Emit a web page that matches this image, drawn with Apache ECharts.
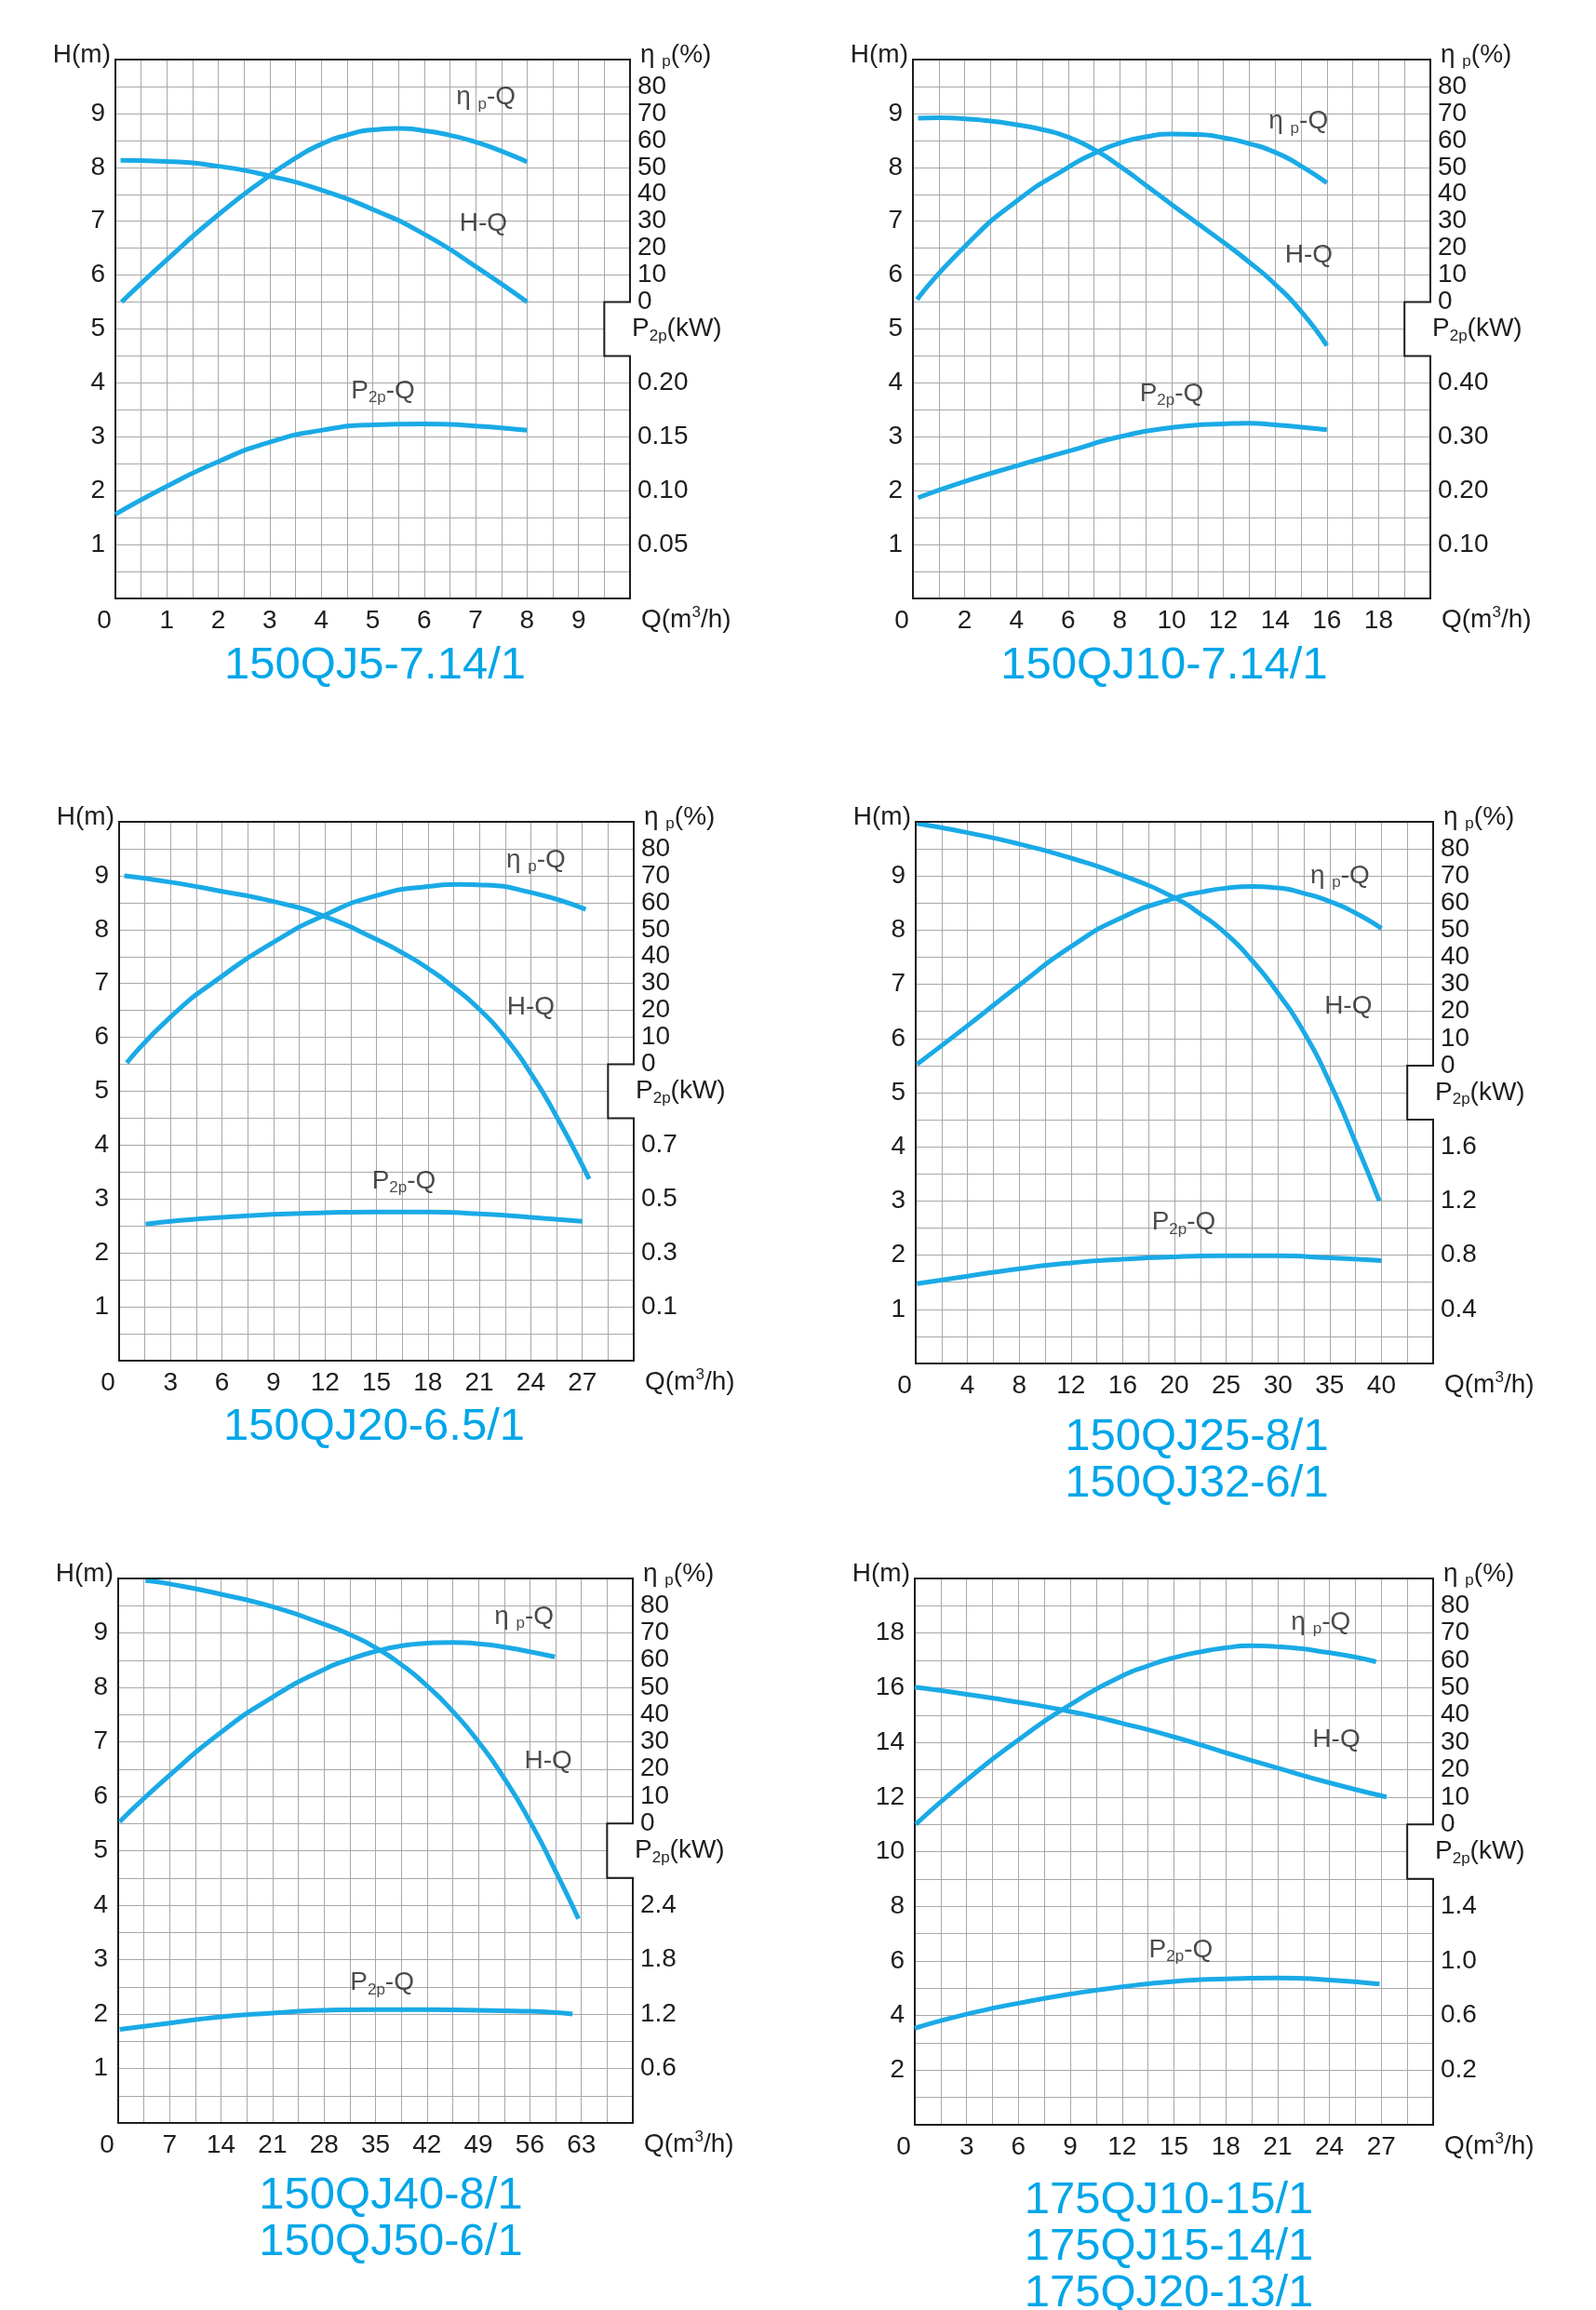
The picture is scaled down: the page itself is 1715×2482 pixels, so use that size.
<!DOCTYPE html>
<html>
<head>
	<meta charset="utf-8">
	<title>QJ 潜水泵性能曲线</title>
	<script src="https://cdn.jsdelivr.net/npm/echarts@6/dist/echarts.min.js"></script>
	<style type="text/css">
		html, body { margin: 0; padding: 0; background: #fff; }
		#chart { width: 1715px; height: 2482px; }
	</style>
</head>
<body>
<div id="chart"></div>
<script type="text/javascript">
	// ---- 150QJ5-7.14/1 ----
	var xTicks1 = [0, 1, 2, 3, 4, 5, 6, 7, 8, 9];
	var pLabels1 = ['0.05', '0.10', '0.15', '0.20'];
	var hq1 = [[0.1, 8.13], [1, 8.11], [2, 8.02], [3, 7.84], [4, 7.58], [5, 7.22], [6, 6.76], [7, 6.16], [8, 5.5]];
	var eta1 = [[0.12, 0], [1, 15.7], [2, 32.4], [3, 47], [3.5, 53.4], [4, 58.6], [4.5, 62], [5, 63.9], [5.5, 64.4], [6, 63.6], [6.5, 61.9], [7, 59.4], [7.5, 56], [8, 52]];
	var p1 = [[0, 0.078], [1, 0.104], [2, 0.127], [3, 0.145], [4, 0.156], [5, 0.161], [6, 0.162], [7, 0.160], [8, 0.156]];

	// ---- 150QJ10-7.14/1 ----
	var xTicks2 = [0, 2, 4, 6, 8, 10, 12, 14, 16, 18];
	var pLabels2 = ['0.10', '0.20', '0.30', '0.40'];
	var hq2 = [[0.2, 8.91], [1, 8.92], [2, 8.9], [3, 8.86], [4, 8.79], [5, 8.7], [6, 8.56], [7, 8.33], [8, 8.02], [9, 7.67], [10, 7.31], [11, 6.96], [12, 6.61], [13, 6.24], [14, 5.83], [15, 5.33], [16, 4.69]];
	var eta2 = [[0.16, 1], [2, 20.6], [4, 37.4], [6, 50], [7, 55.1], [8, 59], [9, 61.3], [10, 62.4], [11, 62.2], [12, 61], [13, 58.8], [14, 55.6], [15, 50.5], [16, 44.2]];
	var p2 = [[0.2, 0.187], [2, 0.217], [4, 0.246], [6, 0.273], [8, 0.30], [10, 0.317], [12, 0.324], [13, 0.325], [14, 0.322], [16, 0.313]];

	// ---- 150QJ20-6.5/1 ----
	var xTicks3 = [0, 3, 6, 9, 12, 15, 18, 21, 24, 27];
	var pLabels3 = ['0.1', '0.3', '0.5', '0.7'];
	var hq3 = [[0.3, 9.0], [3, 8.88], [6, 8.71], [9, 8.52], [12, 8.24], [15, 7.82], [16.5, 7.57], [18, 7.28], [19.5, 6.93], [21, 6.52], [22.5, 6.0], [24, 5.33], [25.5, 4.53], [27.4, 3.37]];
	var eta3 = [[0.45, 0.5], [3, 17.6], [6, 32.7], [9, 45.3], [12, 55.4], [15, 62.6], [18, 66], [19.9, 66.8], [21, 66.6], [24, 63.8], [27.2, 57.5]];
	var p3 = [[1.55, 0.407], [6, 0.432], [12, 0.449], [15, 0.452], [18, 0.452], [21, 0.445], [24, 0.432], [27, 0.417]];

	// ---- 150QJ25-8/1, 150QJ32-6/1 (x axis changes step at 20) ----
	var xTicks4 = [0, 4, 8, 12, 16, 20, 25, 30, 35, 40];
	var pLabels4 = ['0.4', '0.8', '1.2', '1.6'];
	var hq4 = [[0.1, 9.97], [4, 9.8], [8, 9.59], [12, 9.33], [16, 9.01], [20, 8.6], [22.5, 8.3], [25, 7.93], [27.5, 7.44], [30, 6.84], [32.5, 6.12], [35, 5.19], [37.5, 4.08], [39.8, 3.0]];
	var eta4 = [[0.1, 0.5], [4, 14.7], [8, 29.7], [12, 43.9], [16, 54.8], [20, 61.8], [22.5, 64], [25, 65.5], [27.5, 66.1], [30, 65.6], [32.5, 63.6], [35, 60.6], [37.5, 56.3], [40, 50.6]];
	var p4 = [[0.1, 0.59], [4, 0.645], [8, 0.70], [12, 0.743], [16, 0.77], [20, 0.787], [25, 0.795], [30, 0.795], [35, 0.78], [40, 0.76]];

	// ---- 150QJ40-8/1, 150QJ50-6/1 ----
	var xTicks5 = [0, 7, 14, 21, 28, 35, 42, 49, 56, 63];
	var pLabels5 = ['0.6', '1.2', '1.8', '2.4'];
	var hq5 = [[3.7, 9.96], [7, 9.9], [14, 9.71], [21, 9.48], [28, 9.16], [31.5, 8.97], [35, 8.73], [38.5, 8.42], [42, 8.03], [45.5, 7.56], [49, 7.0], [52.5, 6.33], [56, 5.54], [59.5, 4.62], [62.6, 3.75]];
	var eta5 = [[0.2, 0.6], [7, 17.7], [14, 33.5], [21, 46.4], [28, 56.6], [31.5, 60.3], [35, 63.2], [38.5, 65.2], [42, 66.2], [45.5, 66.5], [49, 66.0], [52.5, 64.8], [56, 63.1], [59.4, 61.2]];
	var p5 = [[0.2, 1.03], [7, 1.10], [14, 1.17], [21, 1.21], [28, 1.24], [35, 1.25], [42, 1.25], [49, 1.24], [56, 1.23], [61.8, 1.20]];

	// ---- 175QJ10-15/1, 175QJ15-14/1, 175QJ20-13/1 ----
	var xTicks6 = [0, 3, 6, 9, 12, 15, 18, 21, 24, 27];
	var pLabels6 = ['0.2', '0.6', '1.0', '1.4'];
	var hq6 = [[0, 16.02], [3, 15.76], [6, 15.47], [9, 15.13], [12, 14.7], [15, 14.2], [18, 13.62], [21, 13.06], [24, 12.52], [27.3, 12.0]];
	var eta6 = [[0.06, 0], [3, 16.2], [6, 30.9], [9, 43.8], [12, 54.3], [13.5, 58], [15, 61], [16.5, 63.1], [18, 64.6], [19.4, 65.4], [21, 65], [24, 62.8], [26.7, 59.5]];
	var p6 = [[0, 0.507], [3, 0.61], [6, 0.69], [9, 0.757], [12, 0.81], [15, 0.85], [18, 0.868], [21, 0.875], [24, 0.86], [26.9, 0.83]];

	var etaLabels = [0, 10, 20, 30, 40, 50, 60, 70, 80];

	var FONT = 'Liberation Sans';
	var INK = '#1e1e1e';
	var BLUE = '#1aaae6';
	var GRID = '#a8a8a8';
	var FS = 28;

	// box: [left, top, width, height] of the plot, t: [title centre x, first line centre y]
	var charts = [
		{title: ['150QJ5-7.14/1'], box: [124, 64, 553, 579], t: [403, 711], hMax: 10, xTicks: xTicks1,
			pAxis: [0, 0.5, 0.05], pLabels: pLabels1, hq: hq1, eta: eta1, p: p1, notes: [[7.2, 9.3], [7.15, 6.95], [5.2, 3.85]]},
		{title: ['150QJ10-7.14/1'], box: [981, 64, 556, 579], t: [1251, 711], hMax: 10, xTicks: xTicks2,
			pAxis: [0, 1, 0.1], pLabels: pLabels2, hq: hq2, eta: eta2, p: p2, notes: [[14.9, 8.85], [15.3, 6.36], [10, 3.8]]},
		{title: ['150QJ20-6.5/1'], box: [128, 883, 553, 579], t: [402, 1529], hMax: 10, xTicks: xTicks3,
			pAxis: [-0.1, 1.9, 0.1], pLabels: pLabels3, hq: hq3, eta: eta3, p: p3, notes: [[24.3, 9.29], [24, 6.56], [16.6, 3.33]]},
		{title: ['150QJ25-8/1', '150QJ32-6/1'], box: [984, 883, 556, 582], t: [1286, 1540], hMax: 10, xTicks: xTicks4,
			pAxis: [0, 4, 0.4], pLabels: pLabels4, hq: hq4, eta: eta4, p: p4, notes: [[36, 9.0], [36.8, 6.6], [20.9, 2.6]]},
		{title: ['150QJ40-8/1', '150QJ50-6/1'], box: [127, 1696, 553, 585], t: [420, 2355], hMax: 10, xTicks: xTicks5,
			pAxis: [0, 6, 0.6], pLabels: pLabels5, hq: hq5, eta: eta5, p: p5, notes: [[55.2, 9.3], [58.5, 6.64], [35.9, 2.57]]},
		{title: ['175QJ10-15/1', '175QJ15-14/1', '175QJ20-13/1'], box: [983, 1696, 557, 587], t: [1256, 2360], hMax: 20, xTicks: xTicks6,
			pAxis: [-0.2, 3.8, 0.2], pLabels: pLabels6, hq: hq6, eta: eta6, p: p6, notes: [[23.5, 18.4], [24.4, 14.1], [15.4, 6.4]]}
	];

	var rich = {
		n: {fontSize: FS, fontFamily: FONT, color: INK, lineHeight: 32},
		s: {fontSize: 17, fontFamily: FONT, color: INK, lineHeight: 20, verticalAlign: 'bottom'},
		t: {fontSize: 17, fontFamily: FONT, color: INK, lineHeight: 20, verticalAlign: 'top'},
		z: {fontSize: FS, fontFamily: FONT, color: INK, padding: [0, 24, 0, 0]}
	};
	var curveNames = ['{n|η }{s|p}{n|-Q}', '{n|H-Q}', '{n|P}{s|2p}{n|-Q}'];

	// position along the x axis counted in label steps (axis 4 is not linear)
	function xPos(ticks, q) {
		var t = ticks.concat([2 * ticks[ticks.length - 1] - ticks[ticks.length - 2]]);
		for (var i = 1; i < t.length; i++) {
			if (q <= t[i] || i == t.length - 1) return i - 1 + (q - t[i - 1]) / (t[i] - t[i - 1]);
		}
	}
	function toAxis(ticks, data) {
		return data.map(function (d) { return [xPos(ticks, d[0]), d[1]]; });
	}

	var gridLine = {show: true, showMaxLine: false, showMinLine: false, lineStyle: {color: GRID, width: 1}};
	var option = {
		animation: false,
		backgroundColor: '#fff',
		textStyle: {fontFamily: FONT},
		grid: [], xAxis: [], yAxis: [], series: [], graphic: []
	};

	for (var i = 0; i < charts.length; i++) {
		var c = charts[i];
		var h = c.hMax;
		option.grid.push({left: c.box[0], top: c.box[1], width: c.box[2], height: c.box[3], containLabel: false});

		(function (c) {
			option.xAxis.push({
				gridIndex: i, type: 'value', min: 0, max: 10, interval: 1,
				axisLine: {show: true, onZero: false, lineStyle: {color: INK, width: 2}},
				axisTick: {show: false},
				axisLabel: {margin: 10, fontSize: FS, color: INK, rich: rich,
					formatter: function (v) { return v === 0 ? '{z|0}' : (v < 10 ? String(c.xTicks[v]) : ''); }},
				splitLine: gridLine,
				minorTick: {show: false, splitNumber: 2},
				minorSplitLine: {show: true, lineStyle: {color: GRID, width: 1}},
				name: '{n|Q(m}{t|3}{n|/h)}', nameLocation: 'end', nameGap: 12, nameMoveOverlap: false,
				nameTextStyle: {align: 'left', verticalAlign: 'middle', padding: [46, 0, 0, 0], rich: rich}
			});
			option.yAxis.push({
				gridIndex: i, type: 'value', min: 0, max: c.hMax, interval: c.hMax / 10, position: 'left',
				axisLine: {show: true, lineStyle: {color: INK, width: 2}},
				axisTick: {show: false},
				axisLabel: {margin: 11, fontSize: FS, color: INK,
					formatter: function (v) { return (v > 0 && v < c.hMax) ? String(v) : ''; }},
				splitLine: gridLine,
				minorTick: {show: false, splitNumber: 2},
				minorSplitLine: {show: true, lineStyle: {color: GRID, width: 1}},
				name: 'H(m)', nameLocation: 'end', nameGap: 5, nameMoveOverlap: false,
				nameTextStyle: {align: 'right', verticalAlign: 'middle', padding: [0, 5, 0, 0], fontSize: FS, color: INK}
			});
			option.yAxis.push({
				gridIndex: i, type: 'value', min: -110, max: 90, interval: 10, position: 'right', offset: 0,
				axisLine: {show: false}, axisTick: {show: false}, splitLine: {show: false},
				axisLabel: {margin: 8, fontSize: FS, color: INK,
					formatter: function (v) { return etaLabels.indexOf(Math.round(v)) >= 0 && Math.abs(v - Math.round(v)) < 1e-6 ? String(Math.round(v)) : ''; }},
				name: '{n|η }{s|p}{n|(%)}', nameLocation: 'end', nameGap: 5, nameMoveOverlap: false,
				nameTextStyle: {align: 'left', verticalAlign: 'middle', padding: [0, 0, 0, 11], rich: rich}
			});
			option.yAxis.push({
				gridIndex: i, type: 'value', min: c.pAxis[0], max: c.pAxis[1], interval: c.pAxis[2], position: 'right', offset: 0,
				axisLine: {show: false}, axisTick: {show: false}, splitLine: {show: false},
				axisLabel: {margin: 8, fontSize: FS, color: INK,
					formatter: function (v) {
						for (var k = 0; k < c.pLabels.length; k++) {
							if (Math.abs(parseFloat(c.pLabels[k]) - v) < 1e-6) return c.pLabels[k];
						}
						return '';
					}},
				name: '{n|P}{s|2p}{n|(kW)}', nameLocation: 'middle', nameRotate: 0, nameGap: 2, nameMoveOverlap: false,
				nameTextStyle: {align: 'left', verticalAlign: 'middle', rich: rich}
			});
		})(c);

		var curves = [[c.eta, 1], [c.hq, 0], [c.p, 2]];
		curves.forEach(function (cv) {
			option.series.push({
				type: 'line', xAxisIndex: i, yAxisIndex: 3 * i + cv[1],
				data: toAxis(c.xTicks, cv[0]),
				smooth: 0.6, symbol: 'none', silent: true, z: 4,
				lineStyle: {color: BLUE, width: 5, cap: 'butt'}
			});
		});

		// curve names
		option.series.push({
			type: 'scatter', xAxisIndex: i, yAxisIndex: 3 * i, symbolSize: 0, silent: true, z: 5,
			data: c.notes.map(function (nt, k) {
				return {value: [xPos(c.xTicks, nt[0]), nt[1]], label: {formatter: curveNames[k]}};
			}),
			label: {show: true, position: 'inside', rich: rich}
		});

		// frame: top edge and right edge with the step where the kW scale starts
		var notch = [[10, h], [10, h * 0.55], [9.5, h * 0.55], [9.5, h * 0.45], [10, h * 0.45]];
		option.series.push({
			type: 'line', xAxisIndex: i, yAxisIndex: 3 * i, data: notch, symbol: 'none', silent: true, z: 3,
			lineStyle: {opacity: 0},
			markArea: {silent: true, itemStyle: {color: '#fff', opacity: 1},
				data: [[{coord: [9.5, h * 0.45]}, {coord: [10, h * 0.55]}]]}
		});
		option.series.push({
			type: 'line', xAxisIndex: i, yAxisIndex: 3 * i, symbol: 'none', silent: true, clip: false, z: 6,
			data: [[0, h], [10, h], [10, h * 0.55], [9.5, h * 0.55], [9.5, h * 0.45], [10, h * 0.45], [10, 0]],
			lineStyle: {color: INK, width: 2, join: 'miter', cap: 'square'}
		});

		option.graphic.push({
			type: 'text', x: c.t[0], y: c.t[1] - 21, silent: true,
			style: {text: c.title.join('\n'), align: 'center', verticalAlign: 'top',
				fontSize: 49, fontFamily: FONT, fill: '#00a6e9', lineHeight: 50}
		});
	}

	var myChart = echarts.init(document.getElementById('chart'));
	myChart.setOption(option);
</script>
</body>
</html>
